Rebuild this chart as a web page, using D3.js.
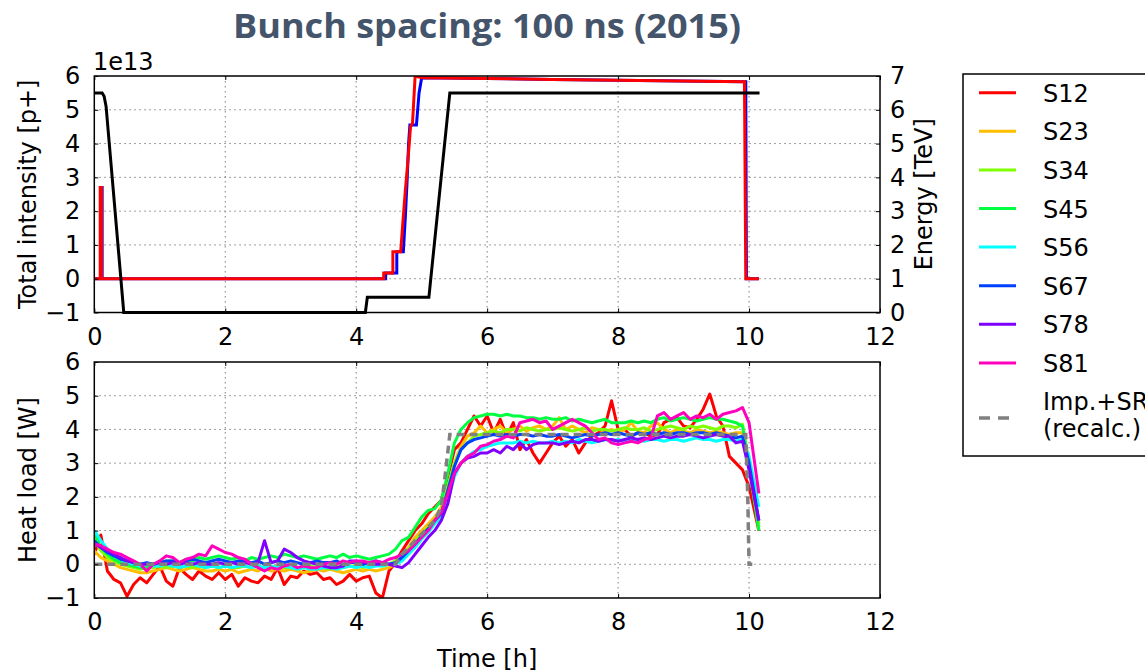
<!DOCTYPE html>
<html>
<head>
<meta charset="utf-8">
<script src="https://cdn.jsdelivr.net/npm/d3@7"></script>
<style>
  body { margin: 0; background: #fff; }
  svg { display: block; }
  text { font-family: "DejaVu Sans", sans-serif; }
</style>
</head>
<body>
<div id="chart"></div>
<script>
// ---- data ----
var sectors = ["S12", "S23", "S34", "S45", "S56", "S67", "S78", "S81"];
var sectorColors = ["#ff0000", "#ffbf00", "#80ff00", "#00ff40", "#00ffff", "#0040ff", "#8000ff", "#ff00bf"];

var xTicks = [0, 2, 4, 6, 8, 10, 12];
var intensityTicks = [-1, 0, 1, 2, 3, 4, 5, 6];
var energyTicks = [0, 1, 2, 3, 4, 5, 6, 7];
var heatTicks = [-1, 0, 1, 2, 3, 4, 5, 6];

// top panel: intensity [1e13 p+] for both beams, energy [TeV]
var beam1Hours = [0, 0.09, 0.09, 0.11, 0.11, 4.42, 4.42, 4.56, 4.56, 4.68, 4.71, 4.75, 4.79, 4.83, 4.86, 4.9, 5.0, 7.0, 9.93, 9.95, 10.15];
var beam1Int   = [0, 0, 2.7, 2.7, 0, 0, 0.17, 0.17, 0.8, 0.8, 1.6, 2.6, 3.5, 4.5, 4.6, 6.0, 5.95, 5.9, 5.83, 0, 0];
var beam2Hours = [0, 0.1, 0.1, 0.12, 0.12, 4.45, 4.45, 4.62, 4.62, 4.72, 4.75, 4.78, 4.8, 4.82, 4.92, 4.96, 5.0, 7.0, 9.95, 9.96, 10.15];
var beam2Int   = [0, 0, 2.7, 2.7, 0, 0, 0.17, 0.17, 0.8, 0.8, 1.8, 3.0, 4.0, 4.55, 4.55, 5.5, 5.95, 5.9, 5.83, 0, 0];
var energyHours = [0, 0.12, 0.15, 0.18, 0.45, 4.14, 4.17, 5.11, 5.43, 10.16];
var energyTeV   = [6.5, 6.5, 6.4, 6.1, 0, 0, 0.45, 0.45, 6.5, 6.5];

// bottom panel: heat load [W] per sector
var hours = [0.0, 0.1, 0.2, 0.3, 0.4, 0.5, 0.6, 0.7, 0.8, 0.9,
  1.0, 1.1, 1.2, 1.3, 1.4, 1.5, 1.6, 1.7, 1.8, 1.9,
  2.0, 2.1, 2.2, 2.3, 2.4, 2.5, 2.6, 2.7, 2.8, 2.9,
  3.0, 3.1, 3.2, 3.3, 3.4, 3.5, 3.6, 3.7, 3.8, 3.9,
  4.0, 4.1, 4.2, 4.3, 4.4, 4.5, 4.6, 4.7, 4.8, 4.9,
  5.0, 5.1, 5.2, 5.3, 5.4, 5.5, 5.6, 5.7, 5.8, 5.9,
  6.0, 6.1, 6.2, 6.3, 6.4, 6.5, 6.6, 6.7, 6.8, 6.9,
  7.0, 7.1, 7.2, 7.3, 7.4, 7.5, 7.6, 7.7, 7.8, 7.9,
  8.0, 8.1, 8.2, 8.3, 8.4, 8.5, 8.6, 8.7, 8.8, 8.9,
  9.0, 9.1, 9.2, 9.3, 9.4, 9.5, 9.6, 9.7, 9.8, 9.9,
  10.0, 10.15];

var loadS12 = [0.3, 0.87, -0.2, -0.45, -0.55, -0.95, -0.6, -0.4, -0.55, -0.3,
  -0.05, -0.5, -0.65, -0.1, -0.3, -0.45, -0.2, -0.35, -0.45, -0.25,
  -0.45, -0.3, -0.65, -0.4, -0.5, -0.55, -0.35, -0.45, -0.1, -0.6,
  -0.35, -0.4, -0.2, -0.3, -0.25, -0.45, -0.4, -0.6, -0.5, -0.3,
  -0.5, -0.4, -0.35, -0.85, -1.0, -0.2, 0.05, 0.4, 0.7, 1.0,
  1.2, 1.5, 1.7, 1.9, 2.6, 3.4, 3.6, 4.0, 4.4, 4.1,
  4.4, 3.9, 4.3, 3.8, 4.2, 3.4, 3.7, 3.3, 3.0, 3.3,
  3.6, 3.8, 3.5, 3.7, 3.3, 3.6, 3.8, 3.9, 4.1, 4.85,
  4.0, 4.0, 3.8, 3.9, 3.9, 3.8, 3.85, 4.2, 4.3, 4.35,
  4.1, 4.05, 4.3, 4.6, 5.05, 4.4, 4.1, 3.2, 3.0, 2.8,
  2.3, 1.0];
var loadS23 = [0.4, 0.2, 0.1, 0.0, -0.1, -0.15, -0.2, -0.25, -0.25, -0.2,
  -0.15, -0.1, -0.15, -0.2, -0.15, -0.1, -0.15, -0.2, -0.2, -0.15,
  -0.2, -0.15, -0.25, -0.2, -0.15, -0.2, -0.1, -0.2, -0.15, -0.2,
  -0.15, -0.2, -0.25, -0.2, -0.15, -0.2, -0.15, -0.2, -0.25, -0.2,
  -0.15, -0.2, -0.15, -0.2, -0.15, -0.1, 0.0, 0.3, 0.5, 0.8,
  1.0, 1.2, 1.4, 1.7, 2.3, 3.0, 3.5, 3.8, 3.9, 4.1,
  3.9, 4.0, 4.1, 3.9, 4.0, 4.1, 3.95, 4.05, 4.1, 4.0,
  4.1, 4.35, 4.0, 4.1, 4.0, 3.9, 4.05, 4.0, 3.95, 4.0,
  3.9, 4.0, 4.2, 3.95, 3.9, 4.1, 4.2, 4.0, 3.9, 4.0,
  3.95, 3.9, 4.0, 3.95, 3.9, 3.95, 3.9, 3.85, 3.9, 3.9,
  3.0, 1.2];
var loadS34 = [0.7, 0.4, 0.2, 0.1, 0.0, -0.05, -0.1, -0.15, -0.1, -0.1,
  -0.05, -0.1, -0.05, -0.1, -0.05, -0.1, -0.05, -0.1, -0.05, -0.1,
  -0.05, -0.1, -0.1, -0.05, -0.1, -0.05, -0.1, -0.1, -0.05, -0.1,
  -0.1, -0.15, -0.1, -0.05, -0.1, -0.1, -0.15, -0.05, -0.1, -0.05,
  -0.05, -0.1, -0.05, 0.0, -0.05, 0.0, 0.1, 0.25, 0.45, 0.7,
  0.9, 1.1, 1.3, 1.6, 2.3, 3.0, 3.4, 3.6, 3.8, 3.85,
  3.9, 3.95, 3.9, 4.0, 4.0, 3.95, 4.05, 4.0, 3.95, 4.0,
  4.0, 4.05, 4.0, 3.95, 4.0, 4.05, 3.95, 4.0, 4.0, 3.95,
  4.0, 4.05, 4.0, 4.0, 4.05, 3.95, 4.0, 4.05, 4.1, 4.05,
  4.0, 4.1, 4.05, 4.1, 4.05, 4.0, 4.1, 4.1, 4.05, 4.15,
  3.0, 1.1];
var loadS45 = [0.9, 0.5, 0.3, 0.15, 0.05, 0.0, -0.05, -0.1, -0.1, 0.0,
  0.05, 0.1, 0.1, 0.05, 0.15, 0.1, 0.2, 0.15, 0.2, 0.25,
  0.2, 0.15, 0.2, 0.1, 0.2, 0.15, 0.2, 0.25, 0.2, 0.3,
  0.25, 0.2, 0.25, 0.2, 0.15, 0.2, 0.25, 0.2, 0.3, 0.2,
  0.25, 0.2, 0.15, 0.2, 0.25, 0.3, 0.45, 0.7, 0.8, 1.1,
  1.4, 1.6, 1.65, 1.9, 2.7, 3.6, 4.0, 4.2, 4.35, 4.4,
  4.45, 4.45, 4.4, 4.45, 4.4, 4.4, 4.35, 4.35, 4.3, 4.35,
  4.3, 4.3, 4.35, 4.25, 4.3, 4.25, 4.2, 4.25, 4.3, 4.2,
  4.2, 4.2, 4.25, 4.2, 4.25, 4.2, 4.3, 4.35, 4.25, 4.3,
  4.35, 4.3, 4.25, 4.3, 4.35, 4.3, 4.3, 4.25, 4.2, 4.1,
  2.9, 1.0];
var loadS56 = [1.0, 0.7, 0.45, 0.3, 0.15, 0.05, 0.0, -0.05, 0.0, -0.05,
  -0.05, 0.0, -0.05, -0.1, -0.05, 0.0, -0.05, -0.1, -0.05, -0.1,
  -0.05, -0.1, -0.05, -0.05, -0.1, -0.05, -0.1, -0.05, -0.1, -0.05,
  -0.1, -0.15, -0.1, -0.15, -0.15, -0.1, -0.1, -0.15, -0.1, -0.05,
  -0.1, -0.05, -0.1, -0.05, -0.05, 0.0, 0.0, 0.1, 0.3, 0.5,
  0.75, 0.95, 1.2, 1.4, 1.9, 2.6, 3.0, 3.2, 3.35, 3.4,
  3.5, 3.55, 3.6, 3.6, 3.6, 3.65, 3.6, 3.65, 3.6, 3.6,
  3.65, 3.6, 3.65, 3.6, 3.7, 3.65, 3.6, 3.65, 3.7, 3.65,
  3.7, 3.65, 3.7, 3.7, 3.65, 3.7, 3.7, 3.65, 3.7, 3.7,
  3.65, 3.7, 3.75, 3.7, 3.7, 3.65, 3.7, 3.7, 3.65, 3.7,
  3.2, 1.7];
var loadS67 = [0.7, 0.5, 0.35, 0.25, 0.15, 0.1, 0.05, 0.0, 0.05, 0.0,
  0.05, 0.1, 0.1, 0.05, 0.1, 0.15, 0.1, 0.05, 0.1, 0.15,
  0.1, 0.05, 0.1, 0.1, 0.05, 0.1, 0.0, 0.05, 0.1, 0.05,
  0.1, 0.05, 0.0, 0.05, 0.1, 0.05, 0.05, 0.1, 0.0, 0.05,
  0.05, 0.0, 0.05, 0.1, 0.05, 0.0, 0.05, 0.2, 0.4, 0.6,
  0.85, 1.05, 1.3, 1.5, 2.2, 2.9, 3.4, 3.6, 3.7, 3.75,
  3.8, 3.85, 3.8, 3.85, 3.8, 3.85, 3.85, 3.8, 3.85, 3.8,
  3.8, 3.85, 3.8, 3.75, 3.8, 3.85, 3.8, 3.85, 3.9, 3.85,
  3.9, 3.85, 3.8, 3.9, 3.85, 3.9, 3.85, 3.9, 3.85, 3.9,
  3.9, 3.85, 3.9, 3.9, 3.85, 3.9, 3.85, 3.8, 3.75, 3.8,
  3.0, 1.3];
var loadS78 = [0.6, 0.5, 0.4, 0.3, 0.2, 0.1, 0.05, 0.0, 0.0, 0.0,
  0.05, 0.0, 0.05, 0.0, 0.05, 0.0, 0.05, 0.0, 0.0, 0.05,
  0.0, 0.05, 0.0, 0.05, 0.0, 0.05, 0.7, 0.05, 0.1, 0.45,
  0.35, 0.2, 0.1, 0.05, 0.0, -0.05, -0.1, -0.1, -0.05, 0.1,
  0.1, 0.05, 0.05, 0.0, 0.0, 0.0, -0.05, -0.1, 0.05, 0.3,
  0.55, 0.8, 1.0, 1.3, 1.8, 2.7, 3.0, 3.15, 3.2, 3.3,
  3.3, 3.4, 3.3, 3.5, 3.4, 3.6, 3.4, 3.55, 3.6, 3.6,
  3.6, 3.55, 3.6, 3.65, 3.6, 3.7, 3.7, 3.65, 3.7, 3.7,
  3.65, 3.7, 3.75, 3.7, 3.75, 3.7, 3.75, 3.8, 3.75, 3.8,
  3.8, 3.85, 3.8, 3.75, 3.8, 3.85, 3.8, 3.8, 3.6, 3.65,
  2.8, 1.3];
var loadS81 = [0.6, 0.55, 0.45, 0.35, 0.3, 0.2, 0.1, 0.0, -0.2, 0.0,
  0.1, 0.25, 0.2, 0.05, 0.15, 0.2, 0.3, 0.25, 0.55, 0.45,
  0.35, 0.3, 0.2, 0.15, 0.0, -0.1, -0.2, -0.1, -0.15, -0.05,
  0.0, -0.1, -0.05, -0.1, -0.1, 0.0, 0.05, 0.0, 0.1, 0.05,
  0.1, 0.1, 0.05, 0.1, 0.05, 0.15, 0.2, 0.3, 0.4, 0.6,
  0.8, 1.0, 1.3, 1.55, 2.1, 2.7, 3.0, 3.2, 3.3, 3.5,
  3.55, 3.65, 3.7, 3.8, 3.75, 4.2, 4.25, 4.3, 4.2, 4.25,
  4.0, 4.1, 4.2, 4.3, 4.2, 4.1, 3.9, 3.7, 3.75, 3.6,
  3.55, 3.6, 3.65, 3.6, 3.7, 3.75, 4.4, 4.5, 4.3, 4.4,
  4.5, 4.3, 4.4, 4.35, 4.45, 4.3, 4.45, 4.5, 4.55, 4.65,
  4.2, 2.1];

// impedance + synchrotron radiation model (recalculated)
var modelHours = [0, 4.6, 4.7, 4.8, 4.9, 5.0, 5.1, 5.2, 5.3, 5.35, 5.43, 5.5, 7.0, 9.0, 9.95, 9.98, 10.0, 10.05];
var modelLoad  = [0, 0, 0.3, 0.5, 0.7, 0.9, 1.1, 1.3, 1.7, 2.5, 3.85, 3.85, 3.85, 3.85, 3.85, 2.0, 0, 0];

var sectorLoads = [loadS12, loadS23, loadS34, loadS45, loadS56, loadS67, loadS78, loadS81];

// ---- drawing ----
var W = 1145, H = 672;
var fs = 24;
var svg = d3.select("#chart").append("svg").attr("width", W).attr("height", H);

var x = d3.scaleLinear().domain([0, 12]).range([94.3, 880]);
var yInt = d3.scaleLinear().domain([-1, 6]).range([312.5, 76]);
var yEn = d3.scaleLinear().domain([0, 7]).range([312.5, 76]);
var yHeat = d3.scaleLinear().domain([-1, 6]).range([598, 362]);

svg.append("text")
  .attr("x", 487).attr("y", 38)
  .attr("text-anchor", "middle")
  .style("font-family", "'Open Sans', 'Liberation Sans', sans-serif")
  .style("font-weight", 700)
  .style("font-size", "34px")
  .attr("fill", "#44546a")
  .attr("textLength", 508)
  .attr("lengthAdjust", "spacingAndGlyphs")
  .text("Bunch spacing: 100 ns (2015)");

function panel(name, y, yTicks) {
  var g = svg.append("g").attr("class", name);
  var top = y.range()[1], bot = y.range()[0];
  var left = x.range()[0], right = x.range()[1];

  svg.append("clipPath").attr("id", "clip-" + name)
    .append("rect").attr("x", left).attr("y", top)
    .attr("width", right - left).attr("height", bot - top);

  // dotted grid
  g.selectAll("line.vgrid").data(xTicks.slice(1, -1)).enter().append("line")
    .attr("class", "vgrid")
    .attr("x1", d => x(d)).attr("x2", d => x(d))
    .attr("y1", top).attr("y2", bot);
  g.selectAll("line.hgrid").data(yTicks.slice(1, -1)).enter().append("line")
    .attr("class", "hgrid")
    .attr("x1", left).attr("x2", right)
    .attr("y1", d => y(d)).attr("y2", d => y(d));
  g.selectAll("line.vgrid, line.hgrid")
    .attr("stroke", "#7f7f7f").attr("stroke-width", 1)
    .attr("stroke-dasharray", "1.5,3.5");

  var plot = g.append("g").attr("clip-path", "url(#clip-" + name + ")");

  var ax = g.append("g").attr("class", "axes");
  ax.append("g").attr("transform", "translate(0," + bot + ")")
    .call(d3.axisBottom(x).tickValues(xTicks).tickSize(-4).tickPadding(15).tickFormat(d3.format("d")));
  ax.append("g").attr("transform", "translate(0," + top + ")")
    .call(d3.axisTop(x).tickValues(xTicks).tickSize(-4).tickFormat(""));
  ax.append("g").attr("transform", "translate(" + left + ",0)")
    .call(d3.axisLeft(y).tickValues(yTicks).tickSize(-4).tickPadding(14).tickFormat(d3.format("d")));
  ax.selectAll(".domain").remove();
  ax.selectAll("text").style("font-size", fs + "px").attr("fill", "#000");

  return { g: g, plot: plot, ax: ax, top: top, bot: bot, left: left, right: right };
}

function finishFrame(p) {
  p.g.append("rect")
    .attr("x", p.left).attr("y", p.top)
    .attr("width", p.right - p.left).attr("height", p.bot - p.top)
    .attr("fill", "none").attr("stroke", "#000").attr("stroke-width", 1.5);
}

// top panel
var topP = panel("top", yInt, intensityTicks);
var rightAx = topP.ax.append("g").attr("transform", "translate(" + topP.right + ",0)")
  .call(d3.axisRight(yEn).tickValues(energyTicks).tickSize(-4).tickPadding(10).tickFormat(d3.format("d")));
rightAx.select(".domain").remove();
rightAx.selectAll("text").style("font-size", fs + "px").attr("fill", "#000");

var lineInt = d3.line().x(d => x(d[0])).y(d => yInt(d[1]));
var lineEn = d3.line().x(d => x(d[0])).y(d => yEn(d[1]));

topP.plot.append("path")
  .datum(d3.zip(beam2Hours, beam2Int))
  .attr("d", lineInt).attr("fill", "none").attr("stroke", "#0000ff").attr("stroke-width", 3);
topP.plot.append("path")
  .datum(d3.zip(beam1Hours, beam1Int))
  .attr("d", lineInt).attr("fill", "none").attr("stroke", "#ff0000").attr("stroke-width", 3);
topP.g.append("path")
  .datum(d3.zip(energyHours, energyTeV))
  .attr("d", lineEn).attr("fill", "none").attr("stroke", "#000").attr("stroke-width", 3);
finishFrame(topP);

topP.g.append("text").attr("x", 93).attr("y", 70).style("font-size", fs + "px").text("1e13");

svg.append("text")
  .attr("transform", "translate(36," + ((topP.top + topP.bot) / 2) + ") rotate(-90)")
  .attr("text-anchor", "middle").style("font-size", fs + "px")
  .text("Total intensity [p+]");
svg.append("text")
  .attr("transform", "translate(932," + ((topP.top + topP.bot) / 2) + ") rotate(-90)")
  .attr("text-anchor", "middle").style("font-size", fs + "px")
  .text("Energy [TeV]");

// bottom panel
var botP = panel("bottom", yHeat, heatTicks);
var lineHeat = d3.line().x(d => x(d[0])).y(d => yHeat(d[1]));

sectorLoads.forEach(function(load, i) {
  botP.plot.append("path")
    .datum(d3.zip(hours, load))
    .attr("d", lineHeat).attr("fill", "none")
    .attr("stroke", sectorColors[i]).attr("stroke-width", 3)
    .attr("stroke-linejoin", "round");
});
botP.plot.append("path")
  .datum(d3.zip(modelHours, modelLoad))
  .attr("d", lineHeat).attr("fill", "none")
  .attr("stroke", "#808080").attr("stroke-width", 3.5)
  .attr("stroke-dasharray", "8,5");
finishFrame(botP);

svg.append("text")
  .attr("transform", "translate(36," + ((botP.top + botP.bot) / 2) + ") rotate(-90)")
  .attr("text-anchor", "middle").style("font-size", fs + "px")
  .text("Heat load [W]");
svg.append("text")
  .attr("x", (botP.left + botP.right) / 2).attr("y", 667)
  .attr("text-anchor", "middle").style("font-size", fs + "px")
  .text("Time [h]");

// legend
var leg = svg.append("g").attr("class", "legend");
leg.append("rect").attr("x", 963).attr("y", 74).attr("width", 300).attr("height", 382)
  .attr("fill", "#fff").attr("stroke", "#000").attr("stroke-width", 1.5);
var rowY = d3.scaleLinear().domain([0, 1]).range([92.7, 131.3]);
sectors.forEach(function(s, i) {
  leg.append("line")
    .attr("x1", 979).attr("x2", 1016)
    .attr("y1", rowY(i)).attr("y2", rowY(i))
    .attr("stroke", sectorColors[i]).attr("stroke-width", 3);
  leg.append("text").attr("x", 1043).attr("y", rowY(i) + 9)
    .style("font-size", fs + "px").text(s);
});
leg.append("line")
  .attr("x1", 979).attr("x2", 1016).attr("y1", 418).attr("y2", 418)
  .attr("stroke", "#808080").attr("stroke-width", 3.5).attr("stroke-dasharray", "11,8");
leg.append("text").attr("x", 1043).attr("y", 410).style("font-size", fs + "px").text("Imp.+SR");
leg.append("text").attr("x", 1043).attr("y", 437).style("font-size", fs + "px").text("(recalc.)");
</script>
</body>
</html>
